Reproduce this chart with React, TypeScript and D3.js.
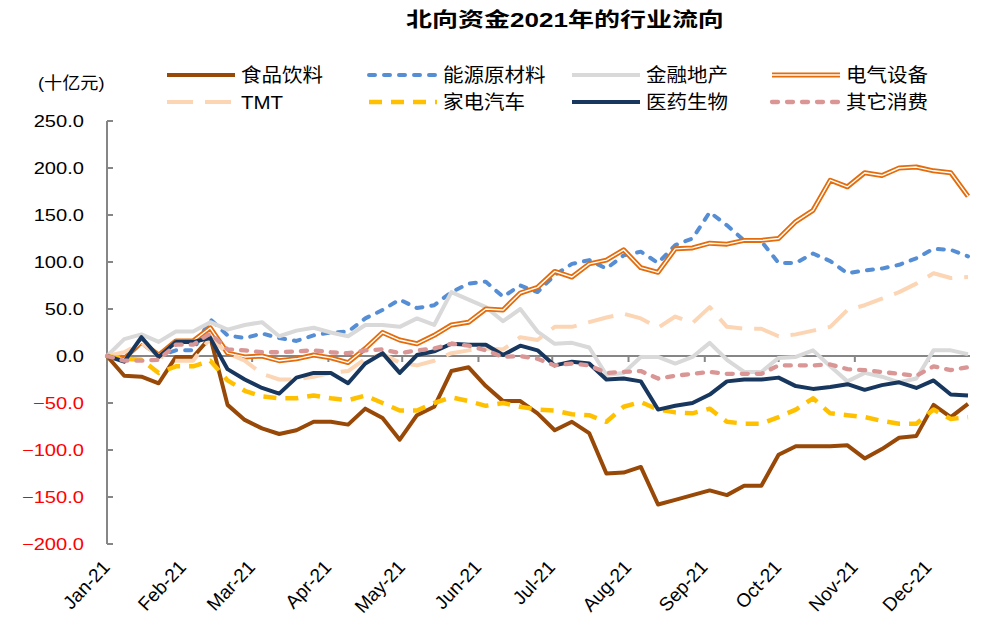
import React from 'react';
import * as d3 from 'd3';

const dates = [
  '2021-01-01','2021-01-08','2021-01-15','2021-01-22','2021-01-29',
  '2021-02-05','2021-02-12','2021-02-19','2021-02-26',
  '2021-03-05','2021-03-12','2021-03-19','2021-03-26',
  '2021-04-02','2021-04-09','2021-04-16','2021-04-23','2021-04-30',
  '2021-05-07','2021-05-14','2021-05-21','2021-05-28',
  '2021-06-04','2021-06-11','2021-06-18','2021-06-25',
  '2021-07-02','2021-07-09','2021-07-16','2021-07-23','2021-07-30',
  '2021-08-06','2021-08-13','2021-08-20','2021-08-27',
  '2021-09-03','2021-09-10','2021-09-17','2021-09-24',
  '2021-10-01','2021-10-08','2021-10-15','2021-10-22','2021-10-29',
  '2021-11-05','2021-11-12','2021-11-19','2021-11-26',
  '2021-12-03','2021-12-10','2021-12-17'
];

const monthTicks = ['2021-01-01','2021-02-01','2021-03-01','2021-04-01','2021-05-01','2021-06-01','2021-07-01','2021-08-01','2021-09-01','2021-10-01','2021-11-01','2021-12-01'];
const monthLabels = ['Jan-21','Feb-21','Mar-21','Apr-21','May-21','Jun-21','Jul-21','Aug-21','Sep-21','Oct-21','Nov-21','Dec-21'];
const yTicks = [250, 200, 150, 100, 50, 0, -50, -100, -150, -200];

const seriesNames = ['食品饮料','能源原材料','金融地产','电气设备','TMT','家电汽车','医药生物','其它消费'];

const food = [0,-21,-22,-29,-1,-1,20,-52,-68,-77,-83,-79,-70,-70,-73,-56,-66,-89,-63,-54,-16,-12,-32,-48,-48,-61,-79,-70,-82,-125,-124,-118,-158,-153,-148,-143,-148,-138,-138,-105,-96,-96,-96,-95,-109,-99,-87,-85,-52,-65,-51];
const energy = [0,-3,14,0,6,6,39,22,19,24,19,16,22,25,26,40,49,60,51,54,68,77,79,63,75,68,86,98,102,93,107,111,99,118,125,153,139,123,122,99,99,109,101,88,91,93,97,104,114,113,106];
const finance = [0,18,23,15,26,26,36,28,33,36,21,27,30,25,21,33,33,31,40,33,68,60,52,37,50,26,13,14,9,-20,-18,-1,-1,-8,-1,14,-4,-17,-17,-2,-1,6,-11,-27,-18,-22,-28,-24,6,6,2];
const electric = [0,-3,15,1,16,16,30,3,-1,0,-5,-3,1,-2,-7,8,25,17,13,22,33,36,50,49,67,73,90,84,98,102,113,94,89,114,115,120,119,123,123,125,143,155,187,180,195,192,200,201,197,195,170];
const tmt = [0,4,14,0,-5,-5,19,3,-5,-19,-25,-25,-22,-18,-16,-3,2,-7,-10,-5,3,6,8,7,20,17,31,31,36,41,45,40,30,42,35,52,31,29,29,21,23,27,31,49,54,61,68,77,88,83,84];
const homeAuto = [0,-3,-4,-18,-11,-11,-5,-26,-37,-43,-45,-45,-42,-45,-47,-42,-50,-58,-58,-50,-44,-48,-53,-50,-54,-57,-58,-62,-63,-70,-54,-49,-57,-60,-61,-56,-70,-72,-72,-65,-57,-45,-61,-63,-65,-69,-72,-72,-57,-67,-65];
const pharma = [0,-6,20,-1,15,15,19,-14,-25,-34,-40,-23,-18,-18,-29,-8,3,-18,1,5,13,12,12,1,11,6,-10,-6,-8,-25,-24,-27,-57,-53,-50,-41,-27,-25,-25,-23,-32,-35,-33,-30,-36,-31,-28,-34,-26,-41,-42];
const otherCons = [0,-5,-5,-4,12,12,24,7,6,4,4,5,6,4,3,6,7,3,6,8,13,11,6,-1,0,-3,-10,-8,-10,-18,-17,-16,-24,-21,-19,-17,-19,-19,-19,-10,-10,-10,-9,-14,-15,-17,-19,-21,-11,-15,-12];

type Style = { color: string; width: number; dash?: string; cap?: string; double?: boolean };

const styles: Style[] = [
  { color: '#984807', width: 4 },
  { color: '#558ED5', width: 4, dash: '6 9', cap: 'round' },
  { color: '#D9D9D9', width: 4 },
  { color: '#E46C0A', width: 5, double: true },
  { color: '#FCD5B5', width: 4, dash: '26 12' },
  { color: '#FFC000', width: 4.5, dash: '13 9' },
  { color: '#17375E', width: 4 },
  { color: '#D99694', width: 4.3, dash: '6 9', cap: 'round' },
];

const allData = [food, energy, finance, electric, tmt, homeAuto, pharma, otherCons];

const FONT = "'Liberation Sans', Arial, 'Noto Sans CJK SC', sans-serif";

function T({ x, y, sx = 1, children, ...rest }: any) {
  return (
    <text transform={`translate(${x},${y}) scale(${sx},1)`} fontFamily={FONT} {...rest}>
      {children}
    </text>
  );
}

export default function App() {
  const parse = d3.timeParse('%Y-%m-%d');
  const dts = dates.map((d) => parse(d) as Date);
  const x = d3.scaleTime().domain([dts[0], dts[dts.length - 1]]).range([107, 968]);
  const y = d3.scaleLinear().domain([-200, 250]).range([544, 121]);
  const line = d3
    .line<number>()
    .x((_, i) => x(dts[i]))
    .y((d) => y(d));

  const legendCols = [167, 369, 572, 772];
  const legendRows = [75, 102];

  const drawPath = (d: string, s: Style, key: string) => {
    if (s.double) {
      return (
        <g key={key}>
          <path d={d} fill="none" stroke={s.color} strokeWidth={s.width} strokeLinejoin="round" />
          <path d={d} fill="none" stroke="#FFFFFF" strokeWidth={1.4} strokeLinejoin="round" />
        </g>
      );
    }
    return (
      <path
        key={key}
        d={d}
        fill="none"
        stroke={s.color}
        strokeWidth={s.width}
        strokeDasharray={s.dash}
        strokeLinecap={(s.cap as any) || 'butt'}
        strokeLinejoin="round"
      />
    );
  };

  return (
    <svg width={992} height={632} style={{ position: 'absolute', left: 0, top: 0, background: '#fff' }}>
      <rect x={0} y={0} width={992} height={632} fill="#fff" />
      <T x={565} y={27} sx={1.3} fontSize={20} fontWeight="bold" textAnchor="middle" fill="#000">
        北向资金2021年的行业流向
      </T>
      <T x={38} y={89} sx={1.1} fontSize={16.5} fill="#000">
        (十亿元)
      </T>

      {seriesNames.map((name, i) => {
        const col = legendCols[i % 4];
        const row = legendRows[Math.floor(i / 4)];
        const s = styles[i];
        const d = `M${col},${row}L${col + 68},${row}`;
        return (
          <g key={name}>
            {drawPath(d, s, 'lg' + i)}
            <T x={col + 74} y={row + 7} sx={1.08} fontSize={19} fill="#000">
              {name}
            </T>
          </g>
        );
      })}

      {/* y axis */}
      <line x1={107} x2={107} y1={y(250)} y2={y(-200)} stroke="#868686" strokeWidth={2} />
      {yTicks.map((t) => (
        <g key={t}>
          <line x1={107} x2={113} y1={y(t)} y2={y(t)} stroke="#868686" strokeWidth={2} />
          <T x={84} y={y(t) + 6} sx={1.22} fontSize={16.5} textAnchor="end" fill={t < 0 ? '#FF0000' : '#000'}>
            {d3.format('.1f')(t)}
          </T>
        </g>
      ))}

      {/* x axis at zero */}
      <line x1={107} x2={970} y1={y(0)} y2={y(0)} stroke="#868686" strokeWidth={2} />
      {monthTicks.map((m, i) => {
        const tx = x(parse(m) as Date);
        return (
          <g key={m}>
            <line x1={tx} x2={tx} y1={y(0)} y2={y(0) + 6} stroke="#868686" strokeWidth={2} />
            <text
              transform={`translate(${tx + 4},${568}) rotate(-47)`}
              fontFamily={FONT}
              fontSize={19}
              textAnchor="end"
              fill="#000"
            >
              {monthLabels[i]}
            </text>
          </g>
        );
      })}

      {allData.map((vals, i) => drawPath(line(vals) as string, styles[i], 's' + i))}
    </svg>
  );
}
